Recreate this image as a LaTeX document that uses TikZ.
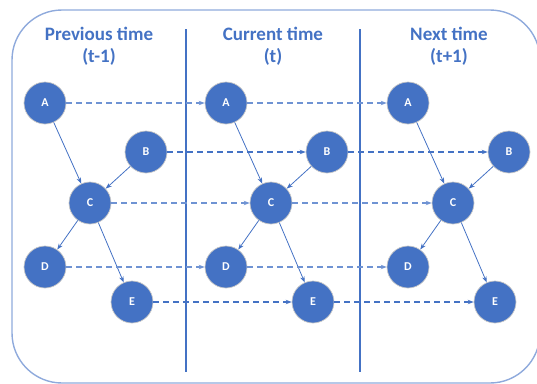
\documentclass[tikz,border=0pt]{standalone}
\usepackage{fontspec}
\setmainfont{Carlito}
\usepackage{xcolor}
\usetikzlibrary{arrows.meta,positioning}
\definecolor{nodeblue}{HTML}{4472C4}
\definecolor{lightblue}{HTML}{8FAADC}
\definecolor{dashblue}{HTML}{6F93D3}

\tikzset{
  var/.style={circle,fill=nodeblue,draw=black!22,line width=0.7pt,minimum size=42pt,inner sep=0pt,
    text=white,font=\fontsize{12}{14}\selectfont\bfseries},
  link/.style={-{Stealth[length=6pt,width=4.5pt]},nodeblue,line width=0.8pt},
  carry/.style={-{Stealth[length=6pt,width=4.5pt]},dashed,dash pattern=on 6pt off 4pt,line width=1.3pt},
  heading/.style={align=center,text=nodeblue,font=\fontsize{19}{22}\selectfont\bfseries}
}

\begin{document}
\begin{tikzpicture}[x=1pt,y=-1pt]
    \useasboundingbox (0,0) rectangle (537,383);

    % Outer frame
    \draw[lightblue,line width=1.4pt,rounded corners=50pt] (12,10) rectangle (540,383);

    % Separators
    \draw[nodeblue,line width=1.6pt] (186,29) -- (186,372);
    \draw[nodeblue,line width=1.6pt] (360,29) -- (360,372);

    % Headings
    \node[heading] (h1) at (99,46) {Previous time\\(t-1)};
    \node[heading] (h2) at (273,46) {Current time\\(t)};
    \node[heading] (h3) at (449,46) {Next time\\(t+1)};

    % One network per time slice
    \foreach \dx/\i in {0/1,181/2,363/3} {
        \node[var] (A\i) at (45+\dx,103) {A};
        \node[var] (B\i) at (146+\dx,152) {B};
        \node[var] (C\i) at (90+\dx,203) {C};
        \node[var] (D\i) at (45+\dx,267) {D};
        \node[var] (E\i) at (132+\dx,302) {E};
        \draw[link] (A\i) -- (C\i);
        \draw[link] (B\i) -- (C\i);
        \draw[link] (C\i) -- (D\i);
        \draw[link] (C\i) -- (E\i);
    }

    % Links across time
    \foreach \i/\j in {1/2,2/3} {
        \draw[carry,dashblue] (A\i) -- (A\j);
        \draw[carry,nodeblue] (B\i) -- (B\j);
        \draw[carry,dashblue] (C\i) -- (C\j);
        \draw[carry,dashblue] (D\i) -- (D\j);
        \draw[carry,nodeblue] (E\i) -- (E\j);
    }
\end{tikzpicture}
\end{document}
